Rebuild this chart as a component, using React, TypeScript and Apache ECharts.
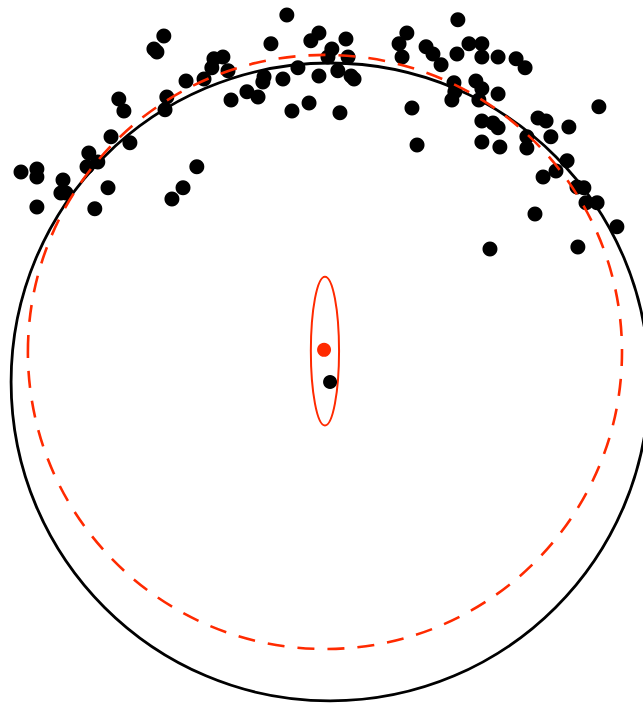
import React, { useEffect, useRef } from "react";
import * as echarts from "echarts";

// Observed sample points (data units, origin at the reference centre)
const sampleX = [
  -12.7, -53.7, -57.0, -56.0, -18.0, -2.0, -4.7, 7.0, 2.3, 1.0, 7.7, -37.0, -34.0, -37.7, -32.3, -40.3, -46.3,
  -52.7, -53.3, -68.7, -67.0, -31.3, -26.0, -22.3, -20.3, -20.7, -14.0, -9.0, -2.0, 4.3, 8.7, 9.7, -11.0, -5.3,
  5.0, -71.3, -65.0, -78.7, -75.7, -79.3, -101.3, -96.0, -96.0, -87.3, -88.0, -86.3, -96.0, -76.7, -72.3, -42.7,
  -47.3, -51.0, 44.3, 27.3, 24.7, 25.7, 33.7, 36.0, 38.7, 48.0, 52.3, 44.0, 52.3, 57.7, 63.7, 66.7, 43.0, 43.3,
  42.3, 50.3, 52.3, 51.3, 57.7, 29.0, 30.7, 52.3, 56.0, 57.7, 52.3, 58.3, 71.0, 73.7, 81.3, 91.3, 67.3, 67.3,
  75.3, 80.7, 77.0, 72.7, 84.0, 86.3, 87.0, 90.7, 97.3, 70.0, 84.3, 55.0,
];
const sampleY = [
  112.3, 105.3, 101.0, 100.0, 102.7, 106.3, 103.7, 104.3, 101.0, 98.3, 98.3, 97.7, 98.3, 94.7, 93.7, 91.0, 90.3,
  85.0, 80.7, 84.3, 80.3, 84.0, 86.7, 85.0, 91.7, 90.0, 91.0, 94.7, 92.0, 93.7, 92.0, 91.0, 80.3, 83.0,
  79.7, 71.7, 69.7, 66.3, 63.3, 61.7, 60.0, 61.0, 58.3, 57.3, 53.0, 53.0, 48.3, 47.7, 54.7, 61.7,
  54.7, 51.0, 110.7, 106.3, 102.7, 98.3, 101.7, 99.3, 95.7, 102.7, 102.7, 99.3, 98.3, 98.3, 97.7, 94.7, 89.7, 86.7,
  84.0, 90.3, 87.7, 84.0, 86.0, 81.3, 69.0, 77.0, 76.3, 74.7, 70.0, 68.3, 78.0, 77.0, 75.0, 81.7, 71.7, 68.0,
  71.7, 63.7, 60.3, 58.3, 55.0, 54.7, 49.7, 49.7, 41.7, 46.0, 35.0, 34.3,
];

// Fitted circle (black): centre and radius
const fitCenter = [1.7, -10.0];
const fitRadius = 106.3;
// Reference circle (red dashed): centre and radius
const refCircleCenter = [0.0, 0.0];
const refRadius = 99.0;
// Reference centre estimate (red dot) and its confidence ellipse
const refPoint = [-0.3, 0.7];
const ellipseCenter = [0.0, 0.3];
const ellipseRadii = [4.7, 24.8];

// Visible data window
const xRange = [-108.3, 106.0];
const yRange = [-117.0, 117.3];

const RED = "#ff2a00";

function shapeRenderer(stroke: string, lineWidth: number, dash?: number[]) {
  return (_params: any, api: any) => {
    const c = api.coord([api.value(0), api.value(1)]);
    const s = api.size([api.value(2), api.value(3)]);
    return {
      type: "ellipse",
      shape: { cx: c[0], cy: c[1], rx: s[0], ry: s[1] },
      style: { fill: "none", stroke, lineWidth, lineDash: dash },
    };
  };
}

export default function App() {
  const ref = useRef<HTMLDivElement>(null);
  useEffect(() => {
    if (!ref.current) return;
    const chart = echarts.init(ref.current, null, { renderer: "svg" });
    const points = sampleX.map((x, i) => [x, sampleY[i]]);
    chart.setOption({
      animation: false,
      backgroundColor: "#fff",
      grid: { left: 0, right: 0, top: 0, bottom: 0 },
      xAxis: { type: "value", min: xRange[0], max: xRange[1], show: false },
      yAxis: { type: "value", min: yRange[0], max: yRange[1], show: false },
      series: [
        {
          type: "scatter",
          data: points,
          symbolSize: 15,
          itemStyle: { color: "#000", opacity: 1 },
          z: 2,
        },
        {
          type: "custom",
          clip: false,
          data: [[fitCenter[0], fitCenter[1], fitRadius, fitRadius]],
          renderItem: shapeRenderer("#000", 2.8),
          z: 3,
        },
        {
          type: "custom",
          clip: false,
          data: [[refCircleCenter[0], refCircleCenter[1], refRadius, refRadius]],
          renderItem: shapeRenderer(RED, 2.6, [17, 13]),
          z: 4,
        },
        {
          type: "custom",
          clip: false,
          data: [[ellipseCenter[0], ellipseCenter[1], ellipseRadii[0], ellipseRadii[1]]],
          renderItem: shapeRenderer(RED, 2),
          z: 4,
        },
        {
          type: "scatter",
          data: [fitCenter],
          symbolSize: 14,
          itemStyle: { color: "#000", opacity: 1 },
          z: 5,
        },
        {
          type: "scatter",
          data: [refPoint],
          symbolSize: 14,
          itemStyle: { color: RED, opacity: 1 },
          z: 5,
        },
      ],
    });
    return () => chart.dispose();
  }, []);
  return (
    <div
      ref={ref}
      style={{ position: "fixed", left: 0, top: 0, width: 643, height: 703 }}
    />
  );
}
